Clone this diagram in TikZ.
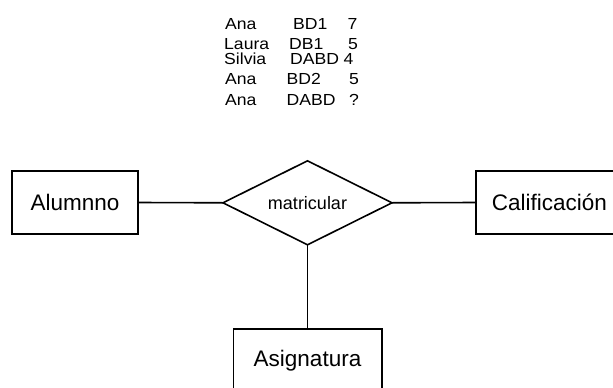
\documentclass[tikz,border=0pt]{standalone}
\usepackage{fontspec}
\setmainfont{Liberation Sans}
\newfontfamily\tabfont[FakeStretch=1.1]{Liberation Sans}
\usetikzlibrary{shapes.geometric}

\tikzset{
  er/.style={line width=1.6pt},
  entity/.style={er, draw, rectangle, inner sep=0pt, outer sep=0pt,
    minimum height=63pt, font=\fontsize{22.5}{27}\selectfont},
  relation/.style={er, draw, diamond, aspect=2, inner sep=0pt, outer sep=0pt,
    minimum width=169pt, minimum height=84pt, font=\fontsize{18}{22}\selectfont},
  link/.style={er},
  cell/.style={anchor=base west, inner sep=0pt, font=\tabfont\fontsize{16}{19}\selectfont}
}

\begin{document}
\begin{tikzpicture}[x=1pt, y=-1pt]
  \useasboundingbox (0,0) rectangle (613,388);
  \clip (0,0) rectangle (613,388);

  % sample rows of the relationship
  \node[cell] (t11) at (225,29)   {Ana};
  \node[cell] (t12) at (293,29)   {BD1};
  \node[cell] (t13) at (347.5,29) {7};
  \node[cell] (t21) at (224,49.2) {Laura};
  \node[cell] (t22) at (289,49.2) {DB1};
  \node[cell] (t23) at (348,49.2) {5};
  \node[cell] (t31) at (224,64)   {Silvia};
  \node[cell] (t32) at (290,64)   {DABD};
  \node[cell] (t33) at (343.5,64) {4};
  \node[cell] (t41) at (225,84.3) {Ana};
  \node[cell] (t42) at (286.5,84.3) {BD2};
  \node[cell] (t43) at (349,84.3) {5};
  \node[cell] (t51) at (225,105.7) {Ana};
  \node[cell] (t52) at (286.5,105.7) {DABD};
  \node[cell] (t53) at (349,105.7) {?};

  % entities and relationship
  \node[entity, minimum width=126pt] (alumno) at (75,202.5) {Alumnno};
  \node[relation] (rel) at (307.5,202.8) {matricular};
  \node[entity, minimum width=147pt] (calif) at (549.5,202.5) {Calificación};
  \node[entity, minimum width=148.4pt] (asig) at (307.5,360.5) {Asignatura};

  % connectors
  \draw[link] (alumno.east) -- (rel.west);
  \draw[link] (rel.east) -- (calif.west);
  \draw[link] (rel.south) -- (asig.north);
\end{tikzpicture}
\end{document}
